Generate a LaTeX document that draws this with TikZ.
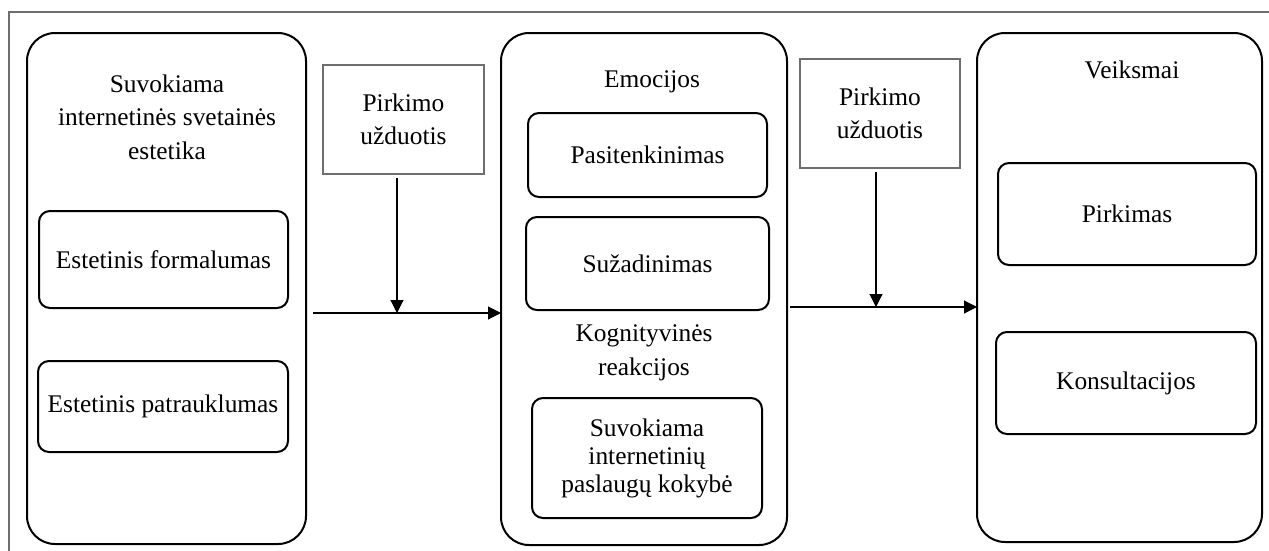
\documentclass[tikz,border=0pt]{standalone}
\usepackage{fontspec}
\setmainfont{Liberation Serif}
\usetikzlibrary{arrows.meta}
\definecolor{framegray}{HTML}{6E6E6E}
\begin{document}
\begin{tikzpicture}[x=1pt,y=-1pt,
  every node/.style={font=\fontsize{25.4}{33.5}\selectfont, inner sep=0pt, outer sep=0pt},
  bigbox/.style={draw=black, line width=2pt, rounded corners=28pt},
  innerbox/.style={draw=black, line width=2pt, rounded corners=11pt},
  taskbox/.style={draw=framegray, line width=2pt, align=center},
  title/.style={anchor=north, align=center},
  flow/.style={line width=1.1pt, -{Triangle[length=13pt,width=13pt]}}
]
\useasboundingbox (0,0) rectangle (1269,550);

% page frame (open towards right and bottom)
\draw[framegray, line width=2pt] (9,560) -- (9,12) -- (1280,12);

% three stages
\node[bigbox, minimum width=279pt, minimum height=511pt] (aes) at (166.5,288.5) {};
\node[bigbox, minimum width=286pt, minimum height=512pt] (emo) at (644,289) {};
\node[bigbox, minimum width=285pt, minimum height=509pt] (act) at (1119.5,287.5) {};

% stage titles
\node[title] (aesT) at (167,74.7) {Suvokiama\\internetinės svetainės\\estetika};
\node[title] (emoT) at (652,70.7) {Emocijos};
\node[title] (cogT) at (644,324.7) {Kognityvinės\\reakcijos};
\node[title] (actT) at (1132,60.4) {Veiksmai};

% inner boxes
\node[innerbox, minimum width=249pt, minimum height=97pt] (form) at (163.5,259.5) {Estetinis formalumas};
\node[innerbox, minimum width=250pt, minimum height=91pt] (attr) at (163,406.5) {Estetinis patrauklumas};
\node[innerbox, minimum width=239pt, minimum height=84pt] (sat) at (647.5,155) {Pasitenkinimas};
\node[innerbox, minimum width=243pt, minimum height=93pt] (arou) at (647.5,263.5) {Sužadinimas};
\node[innerbox, minimum width=230pt, minimum height=120pt, align=center,
      font=\fontsize{25.4}{28}\selectfont] (qual) at (647,458) {Suvokiama\\internetinių\\paslaugų kokybė};
\node[innerbox, minimum width=258pt, minimum height=102pt] (buy) at (1127,214) {Pirkimas};
\node[innerbox, minimum width=260pt, minimum height=102pt] (cons) at (1126,383) {Konsultacijos};

% purchase task boxes
\node[taskbox, minimum width=161pt, minimum height=109pt] (task1) at (403.5,119.5) {Pirkimo\\užduotis};
\node[taskbox, minimum width=160pt, minimum height=109pt] (task2) at (880,113.5) {Pirkimo\\užduotis};

% connectors
\coordinate (h1) at (313,313);
\coordinate (v1) at (397,178);
\coordinate (h2) at (790,307);
\coordinate (v2) at (876,172);
\draw[flow] (h1) -- (h1 -| emo.west);
\draw[flow] (v1) -- (v1 |- h1);
\draw[flow] (h2) -- (h2 -| act.west);
\draw[flow] (v2) -- (v2 |- h2);
\end{tikzpicture}
\end{document}
